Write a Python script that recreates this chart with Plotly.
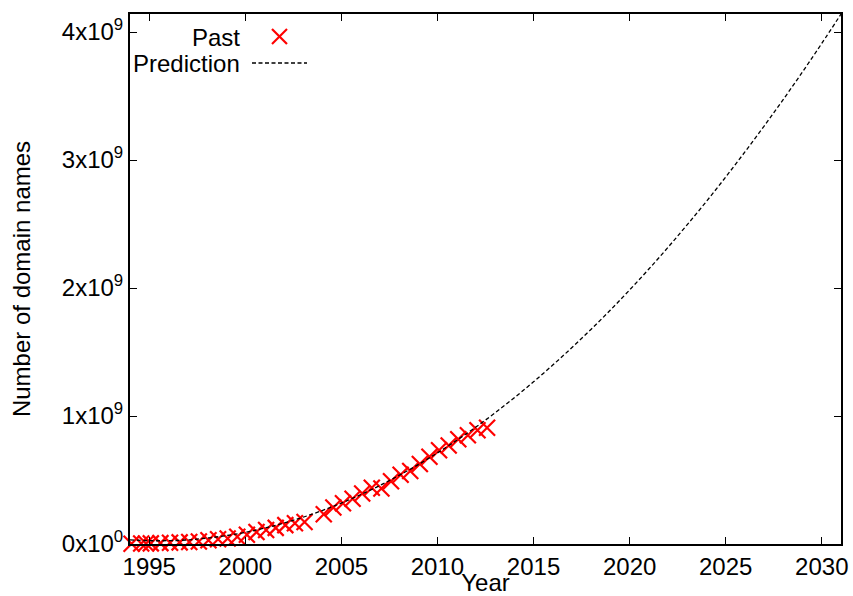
import plotly.graph_objects as go

# Survey dates (decimal years) and counts of domain names
past_years = [
    1994.083, 1994.583, 1994.833, 1995.083, 1995.583, 1996.083, 1996.583,
    1997.083, 1997.583, 1998.083, 1998.583, 1999.083, 1999.583, 2000.083,
    2000.583, 2001.083, 2001.583, 2002.083, 2002.583, 2003.083, 2004.083,
    2004.583, 2005.083, 2005.583, 2006.083, 2006.583, 2007.083, 2007.583,
    2008.083, 2008.583, 2009.083, 2009.583, 2010.083, 2010.583, 2011.083,
    2011.583, 2012.083, 2012.583,
]
past_counts = [
    2.217e6, 3.212e6, 3.864e6, 4.852e6, 6.642e6, 9.472e6, 12.881e6,
    16.146e6, 19.540e6, 29.670e6, 36.739e6, 43.230e6, 56.218e6, 72.398e6,
    93.048e6, 109.574e6, 125.888e6, 147.345e6, 162.128e6, 171.638e6, 233.101e6,
    285.139e6, 317.646e6, 353.284e6, 394.992e6, 439.286e6, 433.193e6, 489.774e6,
    541.677e6, 570.938e6, 625.226e6, 681.065e6, 732.740e6, 768.913e6, 818.374e6,
    849.870e6, 888.239e6, 908.586e6,
]

# Predicted trend, sampled once a year
pred_years = list(range(1994, 2032))
pred_counts = [
    0.032e9, 0.026e9, 0.026e9, 0.032e9, 0.046e9, 0.065e9, 0.091e9, 0.124e9,
    0.163e9, 0.209e9, 0.261e9, 0.320e9, 0.385e9, 0.457e9, 0.536e9, 0.620e9,
    0.712e9, 0.810e9, 0.914e9, 1.025e9, 1.143e9, 1.267e9, 1.398e9, 1.535e9,
    1.678e9, 1.828e9, 1.985e9, 2.148e9, 2.318e9, 2.495e9, 2.677e9, 2.867e9,
    3.063e9, 3.265e9, 3.474e9, 3.689e9, 3.911e9, 4.140e9,
]

x_ticks = [1995, 2000, 2005, 2010, 2015, 2020, 2025, 2030]
y_ticks = [0, 1e9, 2e9, 3e9, 4e9]
y_tick_text = ["0x10<sup>0</sup>", "1x10<sup>9</sup>", "2x10<sup>9</sup>",
               "3x10<sup>9</sup>", "4x10<sup>9</sup>"]

FONT = "Liberation Sans, Arial, Helvetica, sans-serif"
FS = 24
RED = "#ff0000"
DASH = "4px,2.5px"

fig = go.Figure()
fig.add_trace(go.Scatter(
    x=past_years, y=past_counts, mode="markers", name="Past",
    marker=dict(symbol="x-thin", size=16, color=RED,
                line=dict(color=RED, width=2.2)),
    cliponaxis=False, showlegend=False,
))
fig.add_trace(go.Scatter(
    x=pred_years, y=pred_counts, mode="lines", name="Prediction",
    line=dict(color="black", width=1.3, dash=DASH, shape="spline"),
    showlegend=False,
))

axis_common = dict(
    showline=True, linecolor="black", linewidth=2, mirror="allticks",
    ticks="inside", ticklen=7, tickwidth=1, tickcolor="black",
    showgrid=False, zeroline=False,
    tickfont=dict(family=FONT, size=FS, color="black"),
)

fig.update_xaxes(
    range=[1994, 2031], tickvals=x_ticks,
    title=dict(text="Year", font=dict(family=FONT, size=FS, color="black"),
               standoff=0),
    **axis_common,
)
fig.update_yaxes(
    range=[0, 4.1406e9], tickvals=y_ticks, ticktext=y_tick_text,
    title=dict(text="Number of domain names",
               font=dict(family=FONT, size=FS, color="black"), standoff=24),
    **axis_common,
)

# Key in the upper-left corner: right-aligned labels followed by samples
px_x = lambda p: (p - 130) / 711.0
px_y = lambda p: (544 - p) / 530.0

annotations = [
    dict(text="Past", x=px_x(242), y=px_y(37), xref="paper", yref="paper",
         xanchor="right", yanchor="middle", showarrow=False,
         font=dict(family=FONT, size=FS, color="black")),
    dict(text="Prediction", x=px_x(242), y=px_y(64), xref="paper", yref="paper",
         xanchor="right", yanchor="middle", showarrow=False,
         font=dict(family=FONT, size=FS, color="black")),
]
shapes = [
    dict(type="line", xref="paper", yref="paper",
         x0=px_x(272), y0=px_y(29), x1=px_x(287), y1=px_y(44),
         line=dict(color=RED, width=2.2)),
    dict(type="line", xref="paper", yref="paper",
         x0=px_x(272), y0=px_y(44), x1=px_x(287), y1=px_y(29),
         line=dict(color=RED, width=2.2)),
    dict(type="line", xref="paper", yref="paper",
         x0=px_x(252), y0=px_y(63), x1=px_x(307), y1=px_y(63),
         line=dict(color="black", width=1.3, dash=DASH)),
]

fig.update_layout(
    width=853, height=596,
    margin=dict(l=130, r=12, t=14, b=52, autoexpand=False),
    paper_bgcolor="white", plot_bgcolor="white",
    font=dict(family=FONT, size=FS, color="black"),
    annotations=annotations, shapes=shapes,
)

fig.write_html("out.html")
